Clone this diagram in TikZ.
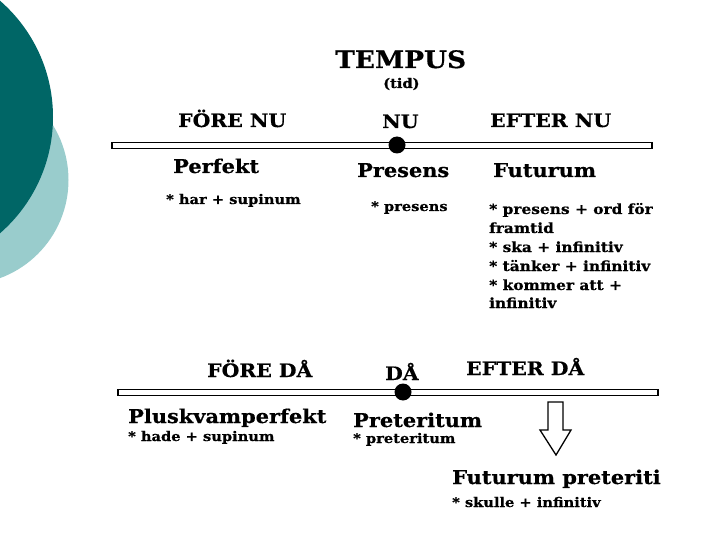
\documentclass[tikz,border=0pt]{standalone}
\usepackage{fontspec}
\setmainfont[FakeStretch=1.1, BoldFeatures={FakeBold=0.6}]{DejaVu Serif}
\definecolor{tealdark}{RGB}{0,102,102}
\definecolor{teallight}{RGB}{153,204,204}

\begin{document}
\begin{tikzpicture}[x=1pt, y=-1pt,
    titletext/.style={font=\fontsize{24}{29}\selectfont\bfseries},
    headtext/.style={font=\fontsize{18.5}{22}\selectfont\bfseries},
    tensetext/.style={font=\fontsize{19}{23}\selectfont\bfseries},
    formtext/.style={font=\fontsize{13.3}{16}\selectfont\bfseries},
    listtext/.style={font=\fontsize{14}{19}\selectfont\bfseries}]
\useasboundingbox (0,0) rectangle (720,540);
\clip (0,0) rectangle (720,540);

\fill[teallight] (-36,180) circle (104.5pt);
\fill[tealdark] (-101,117) circle (154pt);

% time lines
\draw[line width=1.8pt, fill=white] (112,142.5) rectangle (652,148.5);
\draw[line width=1.8pt, fill=white] (118,389.5) rectangle (658,395.5);

\node (nudot) at (397,145) [circle, fill=black, inner sep=0pt, minimum size=17pt] {};
\node (dadot) at (403,392) [circle, fill=black, inner sep=0pt, minimum size=17pt] {};

\begin{scope}[every node/.style={anchor=base west, inner sep=0pt}]
    \node (tempus) at (335,68) [titletext] {TEMPUS};
    \node (tid) at (383,88) [formtext] {(tid)};

    \node (forenu) at (178,127) [headtext] {FÖRE NU};
    \node (nu) at (382,128) [headtext] {NU};
    \node (efternu) at (490,127) [headtext] {EFTER NU};

    \node (perfekt) at (173,173) [tensetext] {Perfekt};
    \node (presens) at (357,177) [tensetext] {Presens};
    \node (futurum) at (493,177) [tensetext] {Futurum};

    \node (perfektf) at (166,204) [formtext] {* har + supinum};
    \node (presensf) at (371,211) [formtext] {* presens};

    \node (fut1) at (489,214) [listtext] {* presens + ord för};
    \node (fut2) at (489,233) [listtext] {framtid};
    \node (fut3) at (489,252) [listtext] {* ska + infinitiv};
    \node (fut4) at (489,271) [listtext] {* tänker + infinitiv};
    \node (fut5) at (489,290) [listtext] {* kommer att +};
    \node (fut6) at (489,308) [listtext] {infinitiv};

    \node (foreda) at (207,377) [headtext] {FÖRE DÅ};
    \node (da) at (385,380) [headtext] {DÅ};
    \node (efterda) at (466,375) [headtext] {EFTER DÅ};

    \node (plusk) at (128,423) [tensetext] {Pluskvamperfekt};
    \node (pret) at (353,427) [tensetext] {Preteritum};
    \node (futpret) at (452,484) [tensetext] {Futurum preteriti};

    \node (pluskf) at (128,441) [formtext] {* hade + supinum};
    \node (pretf) at (353,443) [formtext] {* preteritum};
    \node (futpretf) at (452,507) [formtext] {* skulle + infinitiv};
\end{scope}

% block arrow
\draw[line width=1.3pt, fill=white] (548,402) -- (563,402) -- (563,430) -- (571,430)
    -- (556,455) -- (540,430) -- (548,430) -- cycle;

\end{tikzpicture}
\end{document}
